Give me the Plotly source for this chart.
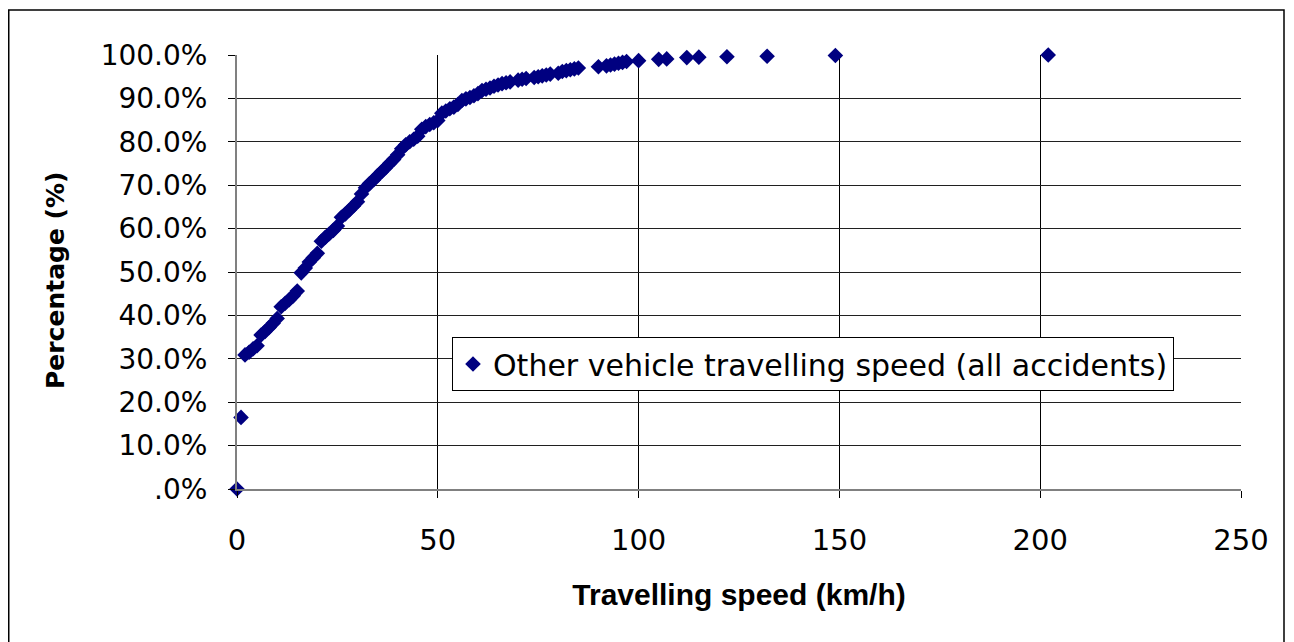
import plotly.graph_objects as go

# Travelling speed (km/h)
speed = [0, 1, 2, 3, 4, 5, 6, 7, 8, 9, 10, 11, 12, 13, 14, 15, 16, 17, 18, 19, 20,
         21, 22, 23, 24, 25, 26, 27, 28, 29, 30, 31, 32, 33, 34, 35, 36, 37, 38, 39, 40,
         41, 42, 43, 44, 45, 46, 47, 48, 49, 50, 51, 52, 53, 54, 55, 56, 57, 58, 59, 60,
         61, 62, 63, 64, 65, 66, 67, 68, 70, 71, 72, 74, 75, 76, 77, 78, 80, 81, 82, 83,
         84, 85, 90, 92, 93, 94, 95, 96, 97, 100, 105, 107, 112, 115, 122, 132, 149, 202]
# Cumulative percentage (%)
pct = [0.0, 16.5, 30.9, 31.5, 32.3, 33.0, 35.5, 36.3, 37.2, 38.2, 39.3, 42.0, 42.8, 43.6, 44.5, 45.6,
       49.8, 50.9, 52.3, 53.3, 54.3, 57.1, 58.0, 58.8, 59.6, 60.6, 62.6, 63.4, 64.3, 65.2, 66.2,
       68.0, 69.4, 70.4, 71.2, 72.2, 73.1, 74.0, 75.0, 75.9, 77.0, 78.4, 79.3, 80.0, 80.6, 81.3,
       82.9, 83.5, 84.0, 84.4, 84.9, 86.6, 87.1, 87.6, 88.0, 88.6, 89.5, 89.9, 90.2, 90.6, 91.1,
       91.8, 92.1, 92.4, 92.8, 93.1, 93.4, 93.6, 93.8, 94.2, 94.4, 94.6, 94.8, 95.0, 95.2, 95.4,
       95.6, 95.8, 96.2, 96.4, 96.6, 96.8, 97.0, 97.3, 97.5, 97.7, 97.9, 98.1, 98.3, 98.5, 98.7,
       99.0, 99.1, 99.4, 99.5, 99.6, 99.7, 99.9, 100.0]

y_tickvals = [0, 10, 20, 30, 40, 50, 60, 70, 80, 90, 100]
y_ticktext = [".0%", "10.0%", "20.0%", "30.0%", "40.0%", "50.0%", "60.0%", "70.0%", "80.0%", "90.0%", "100.0%"]
x_tickvals = [0, 50, 100, 150, 200, 250]

fig = go.Figure()
fig.add_trace(go.Scatter(
    x=speed, y=pct, mode="markers", cliponaxis=False,
    name="Other vehicle travelling speed (all accidents)",
    marker=dict(symbol="diamond", size=12, color="#000080", line=dict(width=0)),
))

OFF = 8  # page body margin
W, H = 1294 - OFF, 642 - OFF
L, R, T, B = 237 - OFF, 1241 - OFF, 55 - OFF, 489 - OFF
fig.update_layout(
    width=W, height=H,
    margin=dict(l=L, r=W - R, t=T, b=H - B, pad=0),
    paper_bgcolor="white", plot_bgcolor="white",
    font=dict(family="DejaVu Sans", size=25, color="black"),
    showlegend=True,
    legend=dict(x=(452 - OFF - L) / (R - L), y=(B - (337 - OFF)) / (B - T), xanchor="left", yanchor="top",
                bgcolor="white", bordercolor="black", borderwidth=1,
                font=dict(family="DejaVu Sans", size=30, color="black"),
                itemsizing="constant", itemwidth=30),
    xaxis=dict(range=[0, 250], tickvals=x_tickvals, showgrid=True, gridcolor="black", gridwidth=1,
               zeroline=False, showline=True, linecolor="#808080", linewidth=2,
               ticks="outside", ticklen=7, tickcolor="black", tickwidth=1,
               ticklabelstandoff=17, tickfont=dict(family="DejaVu Sans", size=29),
               title=dict(text="<b>Travelling speed (km/h)</b>", standoff=28,
                          font=dict(family="Liberation Sans", size=30))),
    yaxis=dict(range=[0, 100], tickvals=y_tickvals, ticktext=y_ticktext, showgrid=True,
               gridcolor="#202020", gridwidth=1, zeroline=False, showline=True,
               linecolor="#808080", linewidth=2, ticks="outside", ticklen=7, tickcolor="black",
               tickwidth=1, ticklabelstandoff=15, tickfont=dict(family="DejaVu Sans", size=28)),
)

# y-axis title as annotation for exact placement
fig.add_annotation(text="<b>Percentage (%)</b>", textangle=-90, showarrow=False,
                   xref="paper", yref="paper",
                   x=(55 - OFF - L) / (R - L), y=(B - (281 - OFF)) / (B - T),
                   xanchor="center", yanchor="middle",
                   font=dict(family="DejaVu Sans", size=25, color="black"))

# outer chart border
fig.add_shape(type="rect", xref="paper", yref="paper",
              x0=(0.75 - L) / (R - L), x1=(1284 - OFF - L) / (R - L),
              y0=(B - 660) / (B - T), y1=(B - 2) / (B - T),
              line=dict(color="black", width=1.5), fillcolor="rgba(0,0,0,0)", layer="below")

fig.write_html("out.html")
